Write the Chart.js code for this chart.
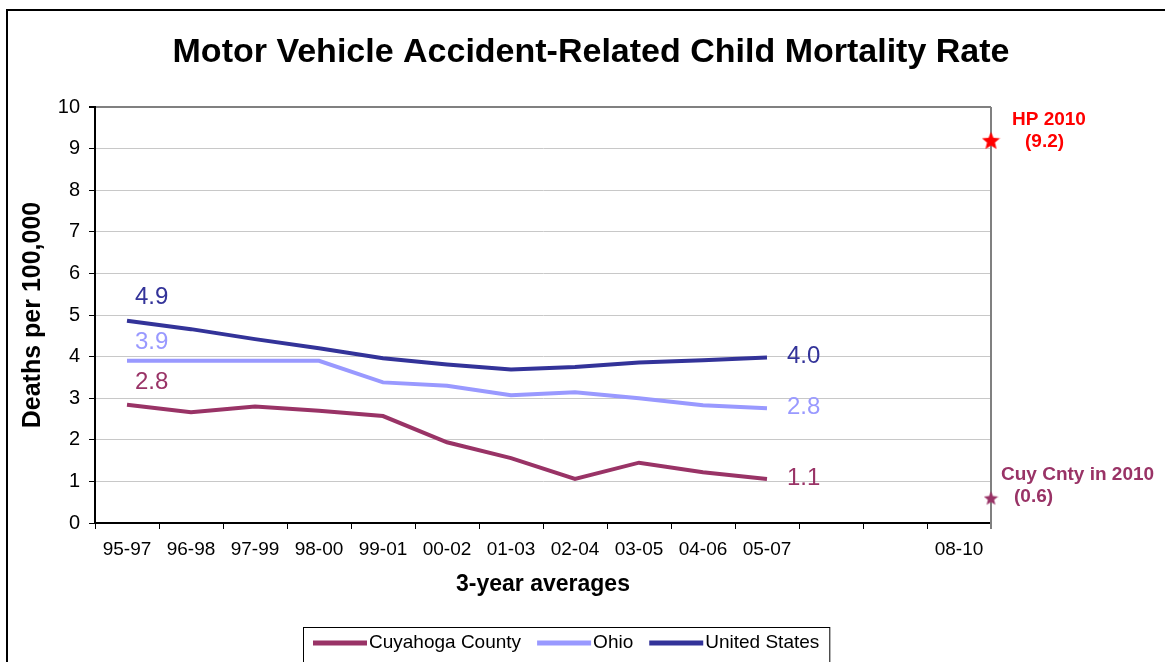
<!DOCTYPE html>
<html>
<head>
<meta charset="utf-8">
<script src="https://cdn.jsdelivr.net/npm/chart.js@4/dist/chart.umd.min.js"></script>
<style>
html, body { margin: 0; padding: 0; background: #fff; }
#wrap { width: 1165px; height: 662px; }
</style>
</head>
<body>
<div id="wrap"><canvas id="chart"></canvas></div>
<script>
// 3-year averages, two empty slots before the 2010 target column
const periods = ['95-97', '96-98', '97-99', '98-00', '99-01', '00-02', '01-03', '02-04', '03-05', '04-06', '05-07', '', '', '08-10'];
const yTicks = [0, 1, 2, 3, 4, 5, 6, 7, 8, 9, 10];

// deaths per 100,000
const cuyahoga = [2.84, 2.66, 2.80, 2.70, 2.57, 1.94, 1.56, 1.06, 1.45, 1.22, 1.06];
const ohio = [3.90, 3.90, 3.90, 3.90, 3.38, 3.30, 3.07, 3.14, 3.00, 2.83, 2.76];
const unitedStates = [4.86, 4.66, 4.42, 4.20, 3.96, 3.81, 3.69, 3.75, 3.86, 3.91, 3.98];

const hp2010Target = 9.2;
const cuyahoga2010 = 0.6;

const FONT = 'Arial, "Liberation Sans", sans-serif';

function makeStar(size, color) {
    const c = document.createElement('canvas');
    c.width = c.height = size;
    const g = c.getContext('2d');
    g.fillStyle = color;
    g.beginPath();
    for (let i = 0; i < 10; i++) {
        let r = i % 2 ? size * 0.22 : size / 2;
        let a = -Math.PI / 2 + i * Math.PI / 5;
        g.lineTo(size / 2 + r * Math.cos(a), size / 2 + r * Math.sin(a) + size * 0.05);
    }
    g.closePath();
    g.fill();
    return c;
}

// frame and right plot border go under the lines and stars
const frame = {
    id: 'frame',
    beforeDatasetsDraw(chart) {
        const ctx = chart.ctx;
        const area = chart.chartArea;
        ctx.save();
        ctx.strokeStyle = '#000';
        ctx.lineWidth = 2;
        ctx.beginPath();
        ctx.moveTo(1165, 10);
        ctx.lineTo(7, 10);
        ctx.lineTo(7, 662);
        ctx.stroke();

        ctx.strokeStyle = '#808080';
        ctx.beginPath();
        ctx.moveTo(area.right, area.top);
        ctx.lineTo(area.right, area.bottom + 6);
        ctx.stroke();
        ctx.restore();
    }
};

// title, first / last value labels, annotations and legend
const decorations = {
    id: 'decorations',
    afterDraw(chart) {
        const ctx = chart.ctx;
        ctx.save();

        ctx.fillStyle = '#000';
        ctx.font = 'bold 34px ' + FONT;
        ctx.textAlign = 'center';
        ctx.textBaseline = 'middle';
        ctx.fillText('Motor Vehicle Accident-Related Child Mortality Rate', 591, 53);

        ctx.font = '24px ' + FONT;
        ctx.textAlign = 'left';
        chart.data.datasets.forEach((ds, i) => {
            if (!ds.firstLabelDy) return;
            const pts = chart.getDatasetMeta(i).data;
            const first = pts[0];
            const last = pts[pts.length - 1];
            ctx.fillStyle = ds.borderColor;
            ctx.fillText(ds.data[0].toFixed(1), first.x + 8, first.y + ds.firstLabelDy);
            ctx.fillText(ds.data[ds.data.length - 1].toFixed(1), last.x + 20, last.y - 1);
        });

        ctx.font = 'bold 19px ' + FONT;
        const hp = chart.getDatasetMeta(3).data[0];
        ctx.fillStyle = '#ff0000';
        ctx.fillText('HP 2010', hp.x + 21, hp.y - 21);
        ctx.fillText('(' + hp2010Target.toFixed(1) + ')', hp.x + 34, hp.y + 1);
        const cc = chart.getDatasetMeta(4).data[0];
        ctx.fillStyle = '#993366';
        ctx.fillText('Cuy Cnty in 2010', cc.x + 10, cc.y - 23);
        ctx.fillText('(' + cuyahoga2010.toFixed(1) + ')', cc.x + 23, cc.y - 1);

        // legend
        ctx.font = '19px ' + FONT;
        const boxLeft = 303, boxTop = 627, cy = 643;
        let x = boxLeft + 10;
        for (let i = 0; i < 3; i++) {
            const ds = chart.data.datasets[i];
            ctx.strokeStyle = ds.borderColor;
            ctx.lineWidth = 5;
            ctx.beginPath();
            ctx.moveTo(x, cy);
            ctx.lineTo(x + 54, cy);
            ctx.stroke();
            ctx.fillStyle = '#000';
            ctx.fillText(ds.label, x + 56, cy);
            x += 56 + ctx.measureText(ds.label).width + 16;
        }
        ctx.strokeStyle = '#000';
        ctx.lineWidth = 1;
        ctx.strokeRect(boxLeft + 0.5, boxTop + 0.5, x - boxLeft - 6, 50);

        ctx.restore();
    }
};

const lineStyle = { borderWidth: 4, pointRadius: 0, pointHoverRadius: 0, tension: 0, fill: false, xAxisID: 'x' };

new Chart(document.getElementById('chart'), {
    type: 'line',
    data: {
        labels: periods,
        datasets: [
            Object.assign({ label: 'Cuyahoga County', data: cuyahoga, borderColor: '#993366', firstLabelDy: -22 }, lineStyle),
            Object.assign({ label: 'Ohio', data: ohio, borderColor: '#9999ff', firstLabelDy: -18 }, lineStyle),
            Object.assign({ label: 'United States', data: unitedStates, borderColor: '#333399', firstLabelDy: -23 }, lineStyle),
            {
                label: 'HP 2010', data: [{ x: 13.5, y: hp2010Target }], xAxisID: 'xs',
                showLine: false, pointStyle: makeStar(19, '#ff0000'), pointRadius: 9, clip: false
            },
            {
                label: 'Cuy Cnty in 2010', data: [{ x: 13.5, y: cuyahoga2010 }], xAxisID: 'xs',
                showLine: false, pointStyle: makeStar(15, '#993366'), pointRadius: 7, clip: false
            }
        ]
    },
    options: {
        responsive: true,
        maintainAspectRatio: false,
        animation: false,
        layout: { padding: { left: 18, top: 107, right: 174, bottom: 64 } },
        plugins: {
            legend: { display: false },
            title: { display: false },
            tooltip: { enabled: false }
        },
        scales: {
            x: {
                type: 'category',
                offset: true,
                grid: { offset: true, drawOnChartArea: false, tickLength: 6, tickColor: '#000', tickWidth: 1 },
                border: { color: '#000', width: 2 },
                ticks: { color: '#000', font: { family: FONT, size: 19 }, padding: 9, maxRotation: 0, autoSkip: false },
                title: { display: true, text: '3-year averages', color: '#000', font: { family: FONT, size: 23, weight: 'bold' }, padding: 0 },
                afterFit: s => { s.height = 75; }
            },
            xs: { type: 'linear', min: -0.5, max: 13.5, display: false },
            y: {
                min: 0,
                max: 10,
                afterBuildTicks: s => { s.ticks = yTicks.map(v => ({ value: v })); },
                grid: {
                    color: c => c.tick.value === 10 ? '#808080' : '#c8c8c8',
                    lineWidth: c => c.tick.value === 10 ? 2 : 1,
                    tickLength: 6,
                    tickColor: '#000'
                },
                border: { color: '#000', width: 2 },
                ticks: { color: '#000', font: { family: FONT, size: 20 }, padding: 9 },
                title: { display: true, text: 'Deaths per 100,000', color: '#000', font: { family: FONT, size: 25, weight: 'bold' }, padding: 0 },
                afterFit: s => { s.width = 77; }
            }
        }
    },
    plugins: [frame, decorations]
});
</script>
</body>
</html>
